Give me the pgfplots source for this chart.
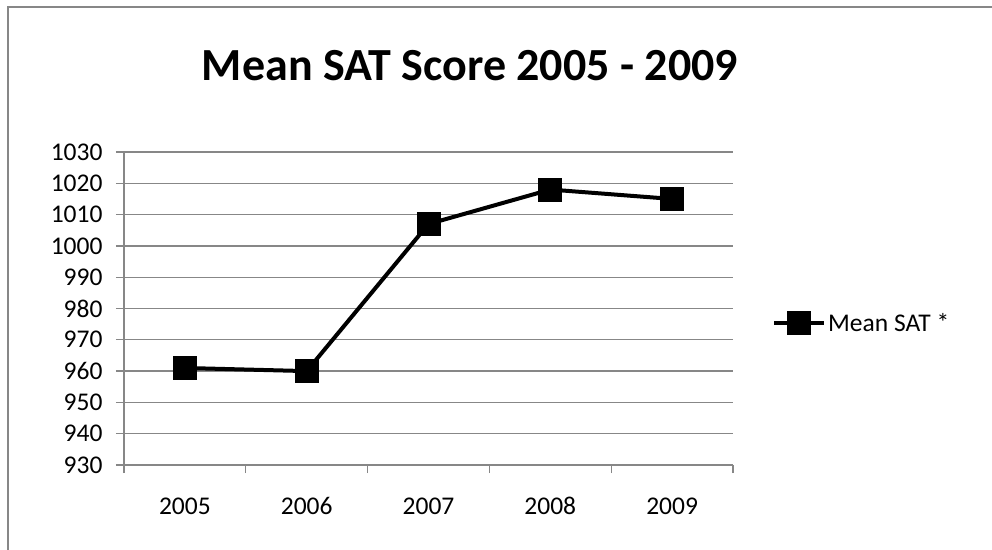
\documentclass[border=0pt]{standalone}
\usepackage{fontspec}
\setmainfont{Carlito}
\usepackage{pgfplots}
\pgfplotsset{compat=1.18}

\definecolor{gridgray}{HTML}{878787}

\begin{document}
\begin{tikzpicture}
\useasboundingbox (0,0) rectangle (992bp,-550bp);
% chart frame (right and bottom edges fall outside the picture)
\draw[gridgray, line width=1.3bp] (8bp,-550bp) -- (8bp,-7bp) -- (992bp,-7bp);
% title
\node[anchor=base, font=\fontsize{46bp}{52bp}\selectfont\bfseries] at (470bp,-80bp) {Mean SAT Score 2005 - 2009};

\begin{axis}[
    at={(124bp,-465bp)}, anchor=south west,
    scale only axis,
    width=609bp, height=313bp,
    xmin=-0.5, xmax=4.5,
    ymin=930, ymax=1030,
    ytick={930,940,...,1030},
    xtick={0,1,2,3,4},
    xticklabels={2005,2006,2007,2008,2009},
    minor xtick={-0.5,0.5,1.5,2.5,3.5,4.5},
    major x tick style={draw=none},
    axis x line*=bottom, axis y line*=left,
    axis line style={gridgray, line width=1.3bp, -},
    tick style={gridgray, line width=1.3bp},
    tick align=outside,
    major tick length=8bp, minor tick length=8bp,
    ymajorgrids,
    grid style={gridgray, line width=1.3bp},
    /pgf/number format/assume math mode=true,
    /pgf/number format/1000 sep={},
    tick label style={font=\fontsize{25.5bp}{30bp}\selectfont, text=black},
    xticklabel style={yshift=-21bp},
    yticklabel style={xshift=-10bp},
    clip=false,
    legend style={at={(1.064,0.4537)}, anchor=west, draw=none, fill=none,
        inner sep=0pt, font=\fontsize{25.5bp}{30bp}\selectfont,
        nodes={inner sep=2bp}},
    legend image code/.code={
        \draw[mark repeat=2, mark phase=2, #1]
            plot coordinates {(0bp,0bp) (25bp,0bp) (50bp,0bp)};
    },
]
\addplot[black, line width=4bp, mark=square*,
    mark size=11.5bp,
    mark options={line width=1bp, rounded corners=3bp, fill=black}]
    coordinates {(0,961) (1,960) (2,1007) (3,1018) (4,1015)};
\addlegendentry{Mean SAT *}
\end{axis}
\end{tikzpicture}
\end{document}
